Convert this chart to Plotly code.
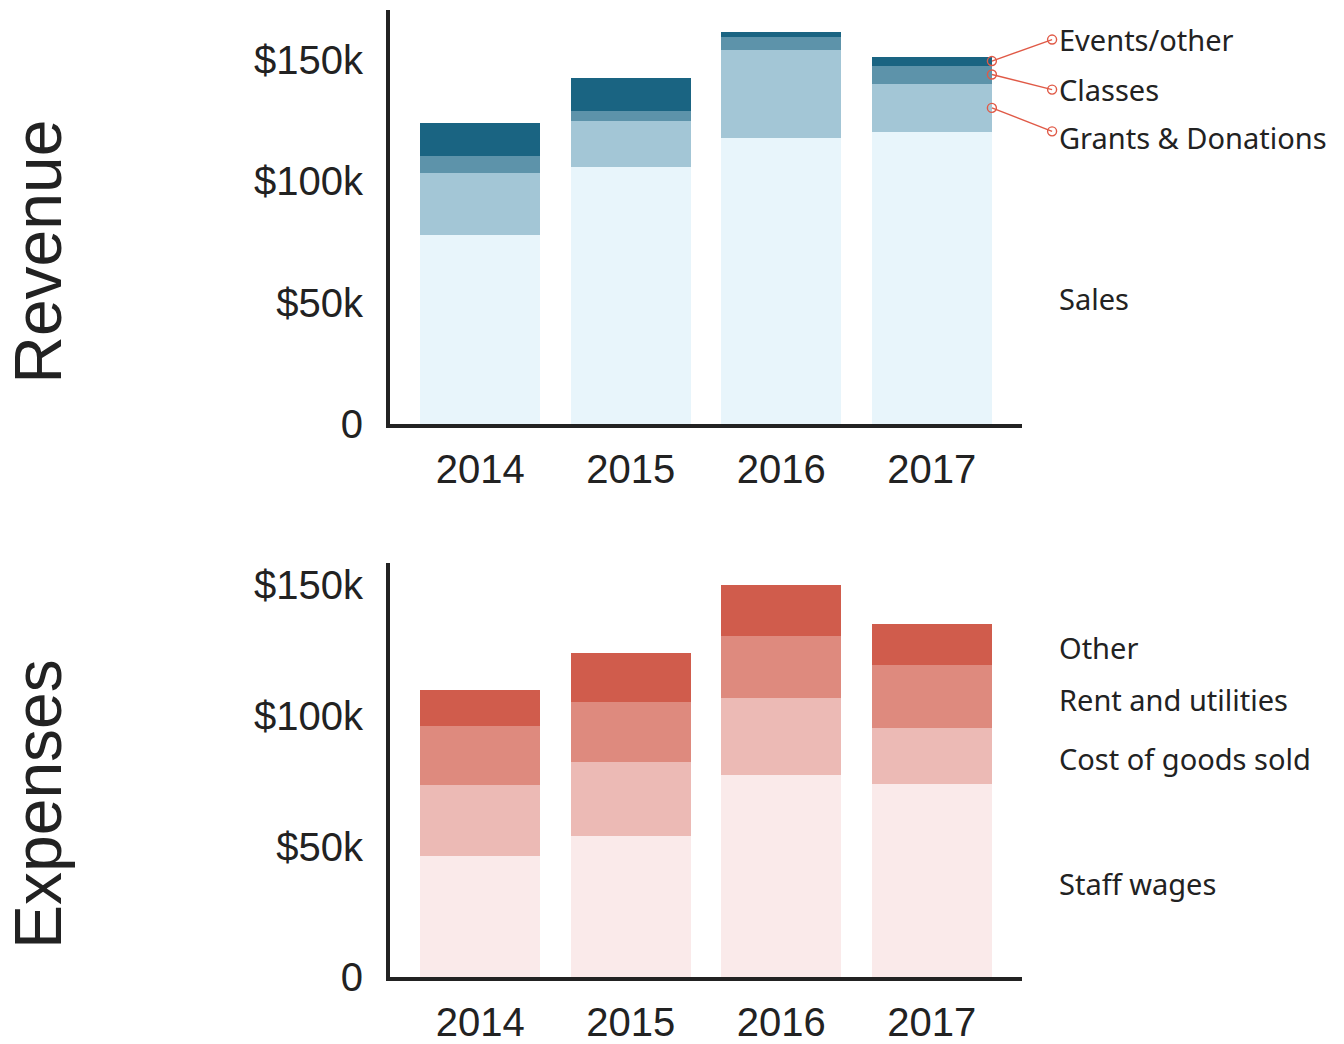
import plotly.graph_objects as go

years = ["2014", "2015", "2016", "2017"]

# Revenue (dollars)
rev_sales = [78000, 105700, 117600, 120100]
rev_grants = [25400, 18900, 36500, 20100]
rev_classes = [7000, 4100, 5300, 7400]
rev_events = [13500, 13900, 2100, 3700]

# Expenses (dollars)
exp_staff = [46200, 54200, 77500, 74000]
exp_cogs = [27500, 28200, 29400, 21400]
exp_rent = [22500, 22900, 23600, 24100]
exp_other = [13700, 18700, 19500, 15600]

tick_vals = [0, 50000, 100000, 150000]
tick_text = ["0", "$50k", "$100k", "$150k"]

rev_series = [
    ("Sales", rev_sales, "#e8f5fb"),
    ("Grants & Donations", rev_grants, "#a3c6d6"),
    ("Classes", rev_classes, "#5d93aa"),
    ("Events/other", rev_events, "#1a6482"),
]
exp_series = [
    ("Staff wages", exp_staff, "#faeaea"),
    ("Cost of goods sold", exp_cogs, "#ecbab5"),
    ("Rent and utilities", exp_rent, "#de8a7e"),
    ("Other", exp_other, "#d05c4c"),
]

W, H = 1344, 1044
HR = 1023  # effective rendered height used for domain fractions
xpos = list(range(len(years)))
XR = [-0.6, len(years) - 0.4]
xdom = [390 / W, 1022 / W]
YR1 = [0, 170500]
YR2 = [0, 158400]
ydom1 = [1 - 426 / HR, 1 - 10 / HR]
ydom2 = [1 - 982 / HR, 1 - 566 / HR]


def x_to_paper(xv):
    return xdom[0] + (xv - XR[0]) / (XR[1] - XR[0]) * (xdom[1] - xdom[0])


def y_to_paper(v, dom, rng):
    return dom[0] + (v - rng[0]) / (rng[1] - rng[0]) * (dom[1] - dom[0])


fig = go.Figure()

for name, vals, col in rev_series:
    fig.add_trace(go.Bar(x=xpos, y=vals, name=name, marker=dict(color=col, line=dict(width=0)),
                         xaxis="x", yaxis="y", showlegend=False))
for name, vals, col in exp_series:
    fig.add_trace(go.Bar(x=xpos, y=vals, name=name, marker=dict(color=col, line=dict(width=0)),
                         xaxis="x2", yaxis="y2", showlegend=False))

label_font = dict(family="Noto Sans", size=29, color="#222222")
red = "#e05a47"

annotations = []
shapes = []
rev_label_y = {"Events/other": 158500, "Classes": 137800, "Grants & Donations": 118000, "Sales": 51500}
circle_y = {"Events/other": 158300, "Classes": 137700, "Grants & Donations": 120500}
last = len(years) - 1
bar_edge = last + 0.4
label_x = last + 0.83
circle_x = last + 0.8

cum = 0
for name, vals, col in rev_series:
    v = vals[last]
    mid = cum + v / 2
    cum += v
    annotations.append(dict(x=x_to_paper(label_x), y=rev_label_y[name], xref="paper", yref="y", text=name,
                            showarrow=False, xanchor="left", yanchor="middle", font=label_font))
    if name in circle_y:
        p0 = (x_to_paper(bar_edge), y_to_paper(mid, ydom1, YR1))
        p1 = (x_to_paper(circle_x), y_to_paper(circle_y[name], ydom1, YR1))
        shapes.append(dict(type="line", xref="paper", yref="paper", x0=p0[0], y0=p0[1], x1=p1[0], y1=p1[1],
                           line=dict(color=red, width=1.4), layer="above"))
        for px, py in (p0, p1):
            shapes.append(dict(type="circle", xref="paper", yref="paper", xsizemode="pixel", ysizemode="pixel",
                               xanchor=px, yanchor=py, x0=-4.5, x1=4.5, y0=-4.5, y1=4.5,
                               line=dict(color=red, width=1.4), fillcolor="rgba(255,255,255,0)",
                               layer="above"))

cum = 0
for name, vals, col in exp_series:
    v = vals[last]
    mid = cum + v / 2
    cum += v
    annotations.append(dict(x=x_to_paper(label_x), y=mid - 1200, xref="paper", yref="y2", text=name,
                            showarrow=False, xanchor="left", yanchor="middle", font=label_font))

title_font = dict(family="Liberation Sans", size=66, color="#222222")
annotations.append(dict(x=38 / W, y=1 - 253 / HR, xref="paper", yref="paper", text="Revenue",
                        textangle=-90, showarrow=False, font=title_font, xanchor="center", yanchor="middle"))
annotations.append(dict(x=38 / W, y=1 - 808 / HR, xref="paper", yref="paper", text="Expenses",
                        textangle=-90, showarrow=False, font=title_font, xanchor="center", yanchor="middle"))

tick_font = dict(family="Liberation Sans", size=40, color="#222222")
line_common = dict(showline=True, linecolor="#222222", linewidth=4, showgrid=False, zeroline=False,
                   tickfont=tick_font, ticks="")

fig.update_layout(
    width=W, height=H,
    margin=dict(l=0, r=0, t=0, b=0),
    paper_bgcolor="white", plot_bgcolor="white",
    barmode="stack", bargap=0.2,
    xaxis=dict(domain=xdom, anchor="y", range=XR, tickvals=xpos, ticktext=years,
               ticklabelstandoff=7, **line_common),
    yaxis=dict(domain=ydom1, anchor="x", range=YR1,
               tickvals=tick_vals, ticktext=tick_text, ticklabelstandoff=15, **line_common),
    xaxis2=dict(domain=xdom, anchor="y2", range=XR, tickvals=xpos, ticktext=years,
                ticklabelstandoff=7, **line_common),
    yaxis2=dict(domain=ydom2, anchor="x2", range=YR2,
                tickvals=tick_vals, ticktext=tick_text, ticklabelstandoff=15, **line_common),
    annotations=annotations,
    shapes=shapes,
)

fig.write_html("out.html", config={"displayModeBar": False},
               post_script="document.body.style.margin='0';document.body.style.overflow='hidden';")
